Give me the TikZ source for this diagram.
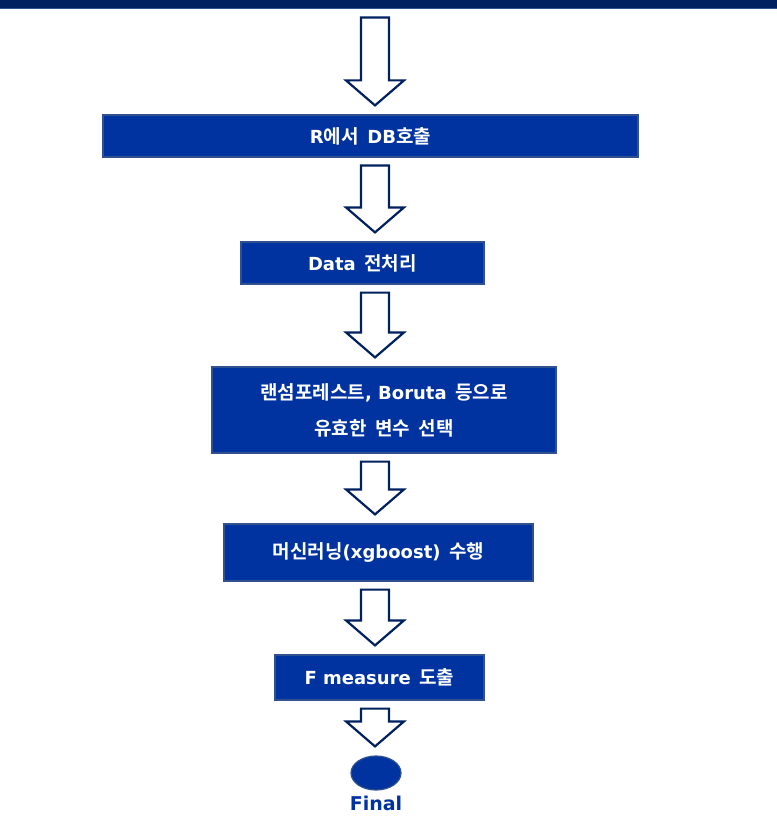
\documentclass[tikz,border=0pt]{standalone}
\usepackage{fontspec}
\setmainfont{Noto Sans CJK KR}[BoldFont={Noto Sans CJK KR Bold}]
\newfontfamily\latfont{DejaVu Sans}
\newcommand{\en}[1]{{\latfont\fontsize{18}{36}\selectfont\bfseries #1}}
\usetikzlibrary{shapes,calc}
\definecolor{boxblue}{RGB}{0,51,160}
\definecolor{boxedge}{RGB}{47,82,143}
\definecolor{navy}{RGB}{0,32,96}
\tikzstyle{block} = [rectangle, draw=boxedge, line width=1.2pt, fill=boxblue,
    text=white, font=\fontsize{19}{36}\selectfont\bfseries, align=center, inner sep=0pt]
\tikzstyle{flowarrow} = [draw=navy, line width=2.2pt, fill=white, line join=miter]
% block arrow from the bottom of one node to the top of the next
\newcommand{\flow}[2]{%
  \draw[flowarrow] let \p1=(#1.south), \p2=(#2.north) in
    (361pt,\y1-8pt) -- (389pt,\y1-8pt) -- (389pt,\y2+34pt) -- (404pt,\y2+34pt)
    -- (375pt,\y2+9pt) -- (346pt,\y2+34pt) -- (361pt,\y2+34pt) -- cycle;}

\begin{document}
\begin{tikzpicture}[x=1pt,y=-1pt]
  \useasboundingbox (0,0) rectangle (776,821);

  \node[rectangle, fill=navy, draw=boxedge, line width=1pt, minimum width=778pt,
        minimum height=10pt, inner sep=0pt] (0) at (388,4) {};

  \node[block, minimum width=535pt, minimum height=42pt] (1) at (370.5,136) {\en{R}에서\ \ \en{DB}호출};
  \node[block, minimum width=243pt, minimum height=42pt] (2) at (362.5,263) {\en{Data}\ \ 전처리};
  \node[block, minimum width=344pt, minimum height=86pt] (3) at (384,410)
        {랜섬포레스트\en{, Boruta}\ \ 등으로\\유효한\ \ 변수\ \ 선택};
  \node[block, minimum width=309pt, minimum height=57pt] (4) at (378.5,552.5) {머신러닝\en{(xgboost)}\ \ 수행};
  \node[block, minimum width=209pt, minimum height=45pt] (5) at (379.5,677.5) {\en{F measure}\ \ 도출};
  \node[ellipse, draw=boxedge, line width=1.2pt, fill=boxblue, minimum width=50pt,
        minimum height=34pt, inner sep=0pt] (6) at (376,773) {};
  \node[text=boxblue, font=\latfont\fontsize{19}{20}\selectfont\bfseries] (7) at (376,803) {Final};

  \flow{0}{1}
  \flow{1}{2}
  \flow{2}{3}
  \flow{3}{4}
  \flow{4}{5}
  \flow{5}{6}
\end{tikzpicture}
\end{document}
